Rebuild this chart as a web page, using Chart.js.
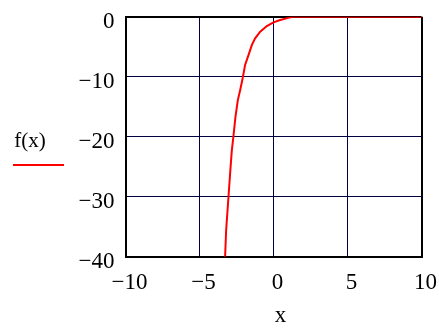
<!DOCTYPE html>
<html><head><meta charset="utf-8">
<script src="https://cdn.jsdelivr.net/npm/chart.js@4"></script>
<style>html,body{margin:0;padding:0;background:#fff}#wrap{width:439px;height:329px}</style>
</head><body><div id="wrap"><canvas id="c" width="439" height="329"></canvas></div>
<script>
const seriesLabel = "f(x)";
const xAxisLabel = "x";
const xValues = [-3.27, -3.2, -3.05, -2.93, -2.82, -2.71, -2.57, -2.41, -2.25, -2.07, -1.92, -1.69, -1.46, -1.24, -0.9, -0.45, 0, 0.45, 1.0, 1.3, 10];
const yValues = [-40, -35.6, -30.3, -26.1, -22.4, -20, -16.7, -13.9, -12.2, -10.1, -8.05, -6.4, -4.7, -3.6, -2.5, -1.55, -0.94, -0.55, -0.2, 0, 0];
const xTicks = [-10, -5, 0, 5, 10];
const yTicks = [0, -10, -20, -30, -40];

const fmt = v => (v < 0 ? "\u2212" + Math.abs(v) : String(v));
const serif = "'Liberation Serif', 'Times New Roman', serif";

const extras = {
  id: 'extras',
  afterDraw(chart) {
    const ctx = chart.ctx;
    const a = chart.chartArea;
    ctx.save();
    ctx.fillStyle = '#000';
    ctx.font = "21px " + serif;
    ctx.textAlign = 'center';
    ctx.textBaseline = 'middle';
    ctx.fillText(chart.data.datasets[0].label, 30, 141);
    ctx.strokeStyle = chart.data.datasets[0].borderColor;
    ctx.lineWidth = 2;
    ctx.beginPath(); ctx.moveTo(13, 165); ctx.lineTo(64, 165); ctx.stroke();
    ctx.fillStyle = '#000';
    ctx.font = "23px " + serif;
    ctx.fillText(xAxisLabel, (a.left + a.right) / 2 + 7, 316);
    ctx.restore();
  }
};

new Chart(document.getElementById('c'), {
  type: 'scatter',
  data: {
    datasets: [{
      label: seriesLabel,
      data: xValues.map((x, i) => ({x, y: yValues[i]})),
      showLine: true,
      borderColor: '#ff0000',
      borderWidth: 2,
      pointRadius: 0,
      tension: 0
    }]
  },
  options: {
    responsive: false,
    animation: false,
    layout: {padding: {left: 0, right: 17.5, top: 16.7, bottom: 0}},
    plugins: {legend: {display: false}, tooltip: {enabled: false}},
    scales: {
      x: {
        type: 'linear', min: -10, max: 10,
        afterBuildTicks: s => { s.ticks = xTicks.map(v => ({value: v})); },
        afterFit: s => { s.height = 72.3; s.paddingLeft = 0; s.paddingRight = 0; s.paddingTop = 0; s.paddingBottom = 0; },
        border: {display: true, color: '#000', width: 2},
        grid: {
          drawTicks: false,
          color: c => (c.tick && (c.tick.value === -10 || c.tick.value === 10)) ? '#000' : '#000040',
          lineWidth: c => (c.tick && (c.tick.value === -10 || c.tick.value === 10)) ? 2 : 1
        },
        ticks: {
          padding: 12, labelOffset: 4, color: '#000', maxRotation: 0, autoSkip: false,
          font: {family: serif, size: 23},
          callback: v => fmt(v)
        }
      },
      y: {
        type: 'linear', min: -40, max: 0,
        afterBuildTicks: s => { s.ticks = yTicks.map(v => ({value: v})); },
        afterFit: s => { s.width = 125.5; s.paddingLeft = 0; s.paddingRight = 0; s.paddingTop = 0; s.paddingBottom = 0; },
        border: {display: true, color: '#000', width: 2},
        grid: {
          drawTicks: false,
          color: c => (c.tick && (c.tick.value === 0 || c.tick.value === -40)) ? '#000' : '#000040',
          lineWidth: c => (c.tick && (c.tick.value === 0 || c.tick.value === -40)) ? 2 : 1
        },
        ticks: {
          padding: 11, labelOffset: 5, color: '#000', autoSkip: false,
          font: {family: serif, size: 23},
          callback: v => fmt(v)
        }
      }
    }
  },
  plugins: [extras]
});
</script></body></html>
